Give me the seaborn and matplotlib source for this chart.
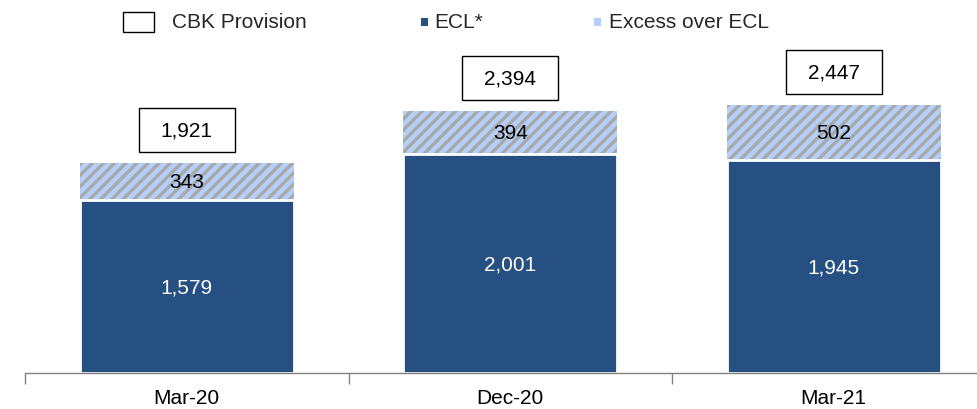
import numpy as np
import pandas as pd
import matplotlib.pyplot as plt
import seaborn as sns
from matplotlib.patches import Rectangle

sns.set_theme(style="white")
plt.rcParams['font.family'] = ['Liberation Sans', 'DejaVu Sans']
plt.rcParams['hatch.linewidth'] = 2.4

# data
periods = ["Mar-20", "Dec-20", "Mar-21"]
ecl = [1579, 2001, 1945]
excess = [343, 394, 502]
cbk_provision = [1921, 2394, 2447]

df = pd.DataFrame({"period": periods, "ecl": ecl, "excess": excess})
df["stack_top"] = df["ecl"] + df["excess"]

ECL_BLUE = "#264F82"
HATCH_BG = "#B4CFFA"
HATCH_LINE = "#A8A8A8"
FS = 15

fig = plt.figure(figsize=(9.77, 4.10), dpi=100)
# axes runs a little past the right edge like in the original slide
ax = fig.add_axes([25 / 977, 36 / 410, 970.5 / 977, 374 / 410])

# excess segment drawn as the full stack height, ECL on top of it
sns.barplot(data=df, x="period", y="stack_top", color=HATCH_BG, saturation=1,
            width=0.66, hatch="///", edgecolor=HATCH_LINE, linewidth=0, ax=ax)
sns.barplot(data=df, x="period", y="ecl", color=ECL_BLUE, saturation=1,
            width=0.66, edgecolor="white", linewidth=2, ax=ax)

ax.set_xlim(-0.5, 2.5)
ax.set_ylim(0, 3420)
ax.set_xlabel("")
ax.set_ylabel("")
ax.set_yticks([])
for s in ["left", "right", "top"]:
    ax.spines[s].set_visible(False)
ax.spines["bottom"].set_color("#808080")
ax.spines["bottom"].set_linewidth(1)

ax.set_xticks(range(len(periods)))
ax.set_xticklabels(periods, fontsize=FS, color="black")
ax.set_xticks([-0.5, 0.5, 1.5, 2.5], minor=True)
ax.tick_params(axis="x", which="major", length=0, pad=11)
ax.tick_params(axis="x", which="minor", length=8, width=1, color="#808080",
               direction="out", bottom=True)

# value labels
px_per_unit = 374 / 3420
for i, row in df.iterrows():
    ax.text(i, row["ecl"] / 2, f"{row['ecl']:,}", ha="center", va="center",
            color="white", fontsize=FS)
    ax.text(i, row["ecl"] + row["excess"] / 2, f"{row['excess']:,}",
            ha="center", va="center", color="black", fontsize=FS)
    # boxed CBK provision total above the stack
    cy = row["stack_top"] + 33 / px_per_unit
    bw, bh = 0.297, 44 / px_per_unit
    ax.add_patch(Rectangle((i - bw / 2, cy - bh / 2), bw, bh, facecolor="white",
                           edgecolor="black", linewidth=1, clip_on=False))
    ax.text(i, cy, f"{cbk_provision[i]:,}", ha="center", va="center",
            color="black", fontsize=FS)

# legend along the top, drawn by hand
ly = 1 - 22.5 / 410
fig.add_artist(Rectangle((123 / 977, 1 - 33 / 410), 31 / 977, 20 / 410,
                         transform=fig.transFigure, facecolor="white",
                         edgecolor="black", linewidth=1))
fig.text(172 / 977, ly, "CBK Provision", ha="left", va="center", fontsize=FS)
fig.add_artist(Rectangle((421 / 977, 1 - 27 / 410), 7 / 977, 8 / 410,
                         transform=fig.transFigure, facecolor=ECL_BLUE,
                         edgecolor="none"))
fig.text(434 / 977, ly, "ECL*", ha="left", va="center", fontsize=FS)
fig.add_artist(Rectangle((594 / 977, 1 - 27 / 410), 7 / 977, 8 / 410,
                         transform=fig.transFigure, facecolor=HATCH_BG,
                         edgecolor=HATCH_LINE, hatch="/", linewidth=0))
fig.text(609 / 977, ly, "Excess over ECL", ha="left", va="center", fontsize=FS)

fig.savefig("out.png", dpi=100)
